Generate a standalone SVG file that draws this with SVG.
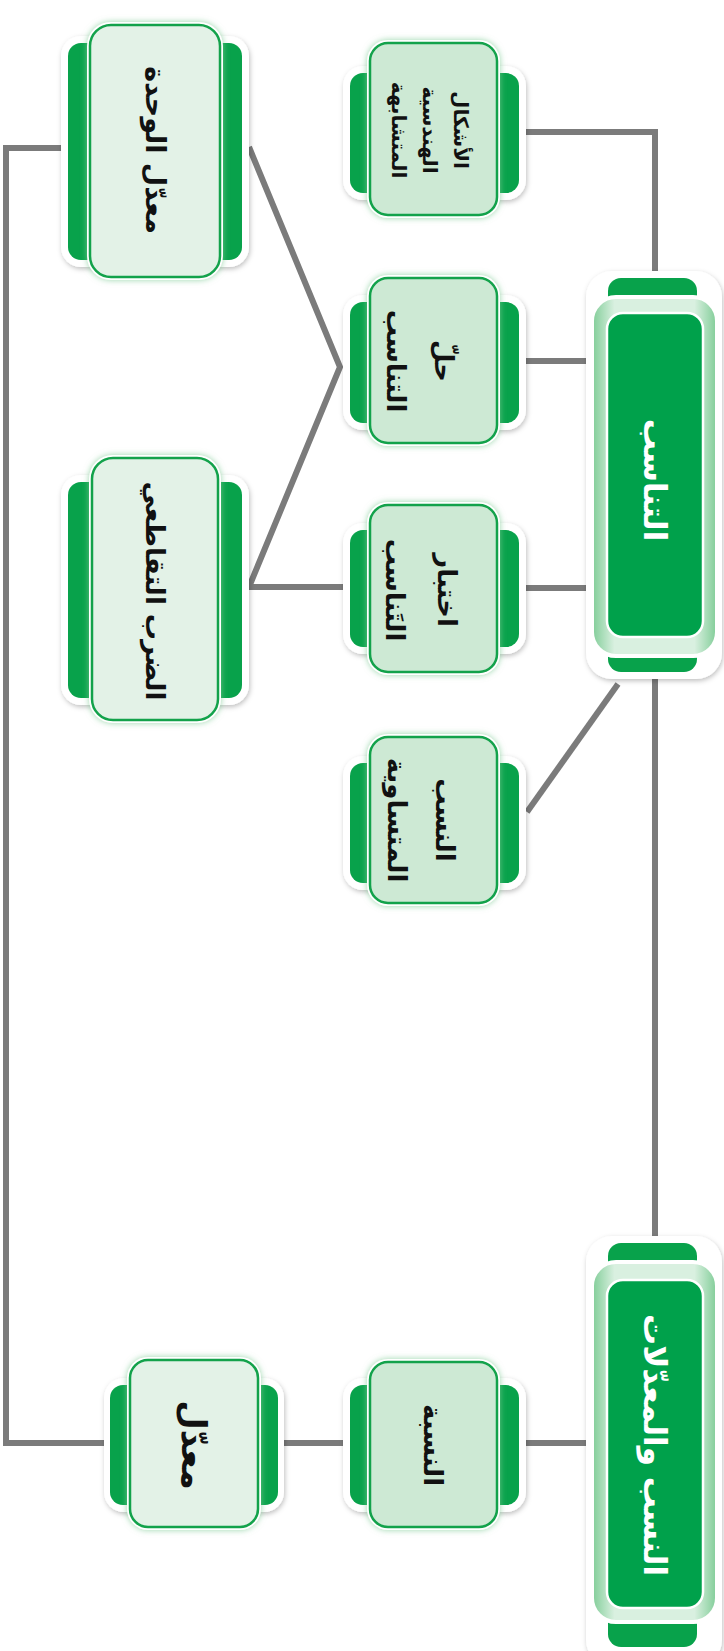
<svg xmlns="http://www.w3.org/2000/svg" width="724" height="1651" viewBox="0 0 724 1651">
<style>
.conn{stroke:#7b7b7b;stroke-width:6;fill:none;stroke-linejoin:miter;stroke-linecap:butt}
.bd{fill:#fff;filter:url(#sh)}
.tab{fill:#08a24b}
.halo{fill:#fff;filter:url(#gl)}
.f2{fill:#cde9d4;stroke:#13a24b;stroke-width:2.5}
.f3{fill:#e3f2e7;stroke:#13a24b;stroke-width:2.5}
.mo{fill:url(#mg);stroke:#fff;stroke-width:4}
.mi{fill:#00a14b;stroke:#fff;stroke-width:2.5}
.t{font-family:"DejaVu Sans",sans-serif;font-size:26px;font-weight:bold;fill:#111;text-anchor:middle;dominant-baseline:central}
.t3{font-size:20px}
.tm{font-family:"DejaVu Sans",sans-serif;font-size:31px;fill:#fff;font-weight:bold;text-anchor:middle;dominant-baseline:central}
</style>
<defs>
<filter id="sh" x="-20%" y="-20%" width="140%" height="140%"><feDropShadow dx="1" dy="2" stdDeviation="2.5" flood-color="#000" flood-opacity="0.25"/></filter>
<filter id="gl" x="-20%" y="-20%" width="140%" height="140%"><feDropShadow dx="0" dy="0" stdDeviation="3" flood-color="#7fcb94" flood-opacity="0.8"/></filter>
<linearGradient id="mg" x1="0" y1="0" x2="1" y2="0">
<stop offset="0" stop-color="#7fcc96"/><stop offset="0.18" stop-color="#d9f0e0"/><stop offset="0.82" stop-color="#d9f0e0"/><stop offset="1" stop-color="#7fcc96"/>
</linearGradient>
</defs>
<rect width="724" height="1651" fill="#fff"/>
<g id="connectors">
<path class="conn" d="M655,271 V132 H526"/>
<path class="conn" d="M586,361 H526"/>
<path class="conn" d="M586,588 H526"/>
<path class="conn" d="M618,684 L527,812"/>
<path class="conn" d="M655,679 V1236"/>
<path class="conn" d="M586,1443 H526"/>
<path class="conn" d="M343,1443 H284"/>
<path class="conn" d="M104,1443 H6 V148 H61"/>
<path class="conn" d="M249,147 L340,367 L249,587 H343"/>
</g>
<g id="n-tanasub">
<rect class="bd" x="586" y="271" width="136" height="408" rx="26"/>
<rect class="tab" x="608" y="278" width="89" height="394" rx="13"/>
<rect class="mo" x="592" y="297" width="125" height="359" rx="24"/>
<rect class="mi" x="607" y="313" width="96" height="324" rx="16"/>
<text class="tm" transform="translate(655,480) rotate(90)">التناسب</text>
</g>
<g id="n-nisab">
<rect class="bd" x="586" y="1236" width="136" height="430" rx="26"/>
<rect class="tab" x="608" y="1243" width="89" height="404" rx="13"/>
<rect class="mo" x="592" y="1262" width="125" height="360" rx="24"/>
<rect class="mi" x="607" y="1280" width="96" height="328" rx="16"/>
<text class="tm" transform="translate(655,1445) rotate(90)">النسب والمعدّلات</text>
</g>
<g id="n-ashkal">
<rect class="bd" x="343" y="66" width="183" height="134" rx="20"/>
<rect class="tab" x="350" y="73" width="169" height="120" rx="13"/>
<rect class="halo" x="367" y="40" width="133" height="178" rx="21"/>
<rect class="f2" x="370" y="43" width="127" height="172" rx="18"/>
<g transform="translate(430,130) rotate(90)">
<text class="t t3" y="-31">الأشكال</text>
<text class="t t3" y="0">الهندسية</text>
<text class="t t3" y="31">المتشابهة</text>
</g>
</g>
<g id="n-hal">
<rect class="bd" x="343" y="295" width="183" height="135" rx="20"/>
<rect class="tab" x="350" y="302" width="169" height="121" rx="13"/>
<rect class="halo" x="367" y="275" width="133" height="171" rx="21"/>
<rect class="f2" x="370" y="278" width="127" height="165" rx="18"/>
<g transform="translate(420,361) rotate(90)">
<text class="t" y="-24">حلّ</text>
<text class="t" y="24">التناسب</text>
</g>
</g>
<g id="n-ikhtibar">
<rect class="bd" x="343" y="523" width="183" height="131" rx="20"/>
<rect class="tab" x="350" y="530" width="169" height="117" rx="13"/>
<rect class="halo" x="367" y="502" width="133" height="173" rx="21"/>
<rect class="f2" x="370" y="505" width="127" height="167" rx="18"/>
<g transform="translate(421,590) rotate(90)">
<text class="t" y="-26">اختبار</text>
<text class="t" y="26">التَناسب</text>
</g>
</g>
<g id="n-mutasawiya">
<rect class="bd" x="343" y="756" width="183" height="134" rx="20"/>
<rect class="tab" x="350" y="763" width="169" height="120" rx="13"/>
<rect class="halo" x="367" y="734" width="133" height="172" rx="21"/>
<rect class="f2" x="370" y="737" width="127" height="166" rx="18"/>
<g transform="translate(421,820) rotate(90)">
<text class="t" y="-24">النسب</text>
<text class="t" y="24">المتساوية</text>
</g>
</g>
<g id="n-nisba">
<rect class="bd" x="343" y="1378" width="183" height="134" rx="20"/>
<rect class="tab" x="350" y="1385" width="169" height="120" rx="13"/>
<rect class="halo" x="367" y="1359" width="133" height="171" rx="21"/>
<rect class="f2" x="370" y="1362" width="127" height="165" rx="18"/>
<text class="t" style="font-size:26px" transform="translate(433,1445) rotate(90)">النسبة</text>
</g>
<g id="n-wahda">
<rect class="bd" x="61" y="36" width="188" height="231" rx="20"/>
<rect class="tab" x="68" y="43" width="174" height="217" rx="13"/>
<rect class="halo" x="87" y="22" width="136" height="258" rx="24"/>
<rect class="f3" x="90" y="25" width="130" height="252" rx="21"/>
<text class="t" style="font-size:27px" transform="translate(155,150) rotate(90)">معدّل الوحدة</text>
</g>
<g id="n-darb">
<rect class="bd" x="61" y="475" width="188" height="230" rx="20"/>
<rect class="tab" x="68" y="482" width="174" height="216" rx="13"/>
<rect class="halo" x="89" y="455" width="132" height="268" rx="24"/>
<rect class="f3" x="92" y="458" width="126" height="262" rx="21"/>
<text class="t" style="font-size:26px" transform="translate(155,591) rotate(90)">الضرب التقاطعي</text>
</g>
<g id="n-muaddal">
<rect class="bd" x="104" y="1378" width="180" height="134" rx="20"/>
<rect class="tab" x="110" y="1385" width="168" height="120" rx="13"/>
<rect class="halo" x="127" y="1357" width="134" height="173" rx="21"/>
<rect class="f3" x="130" y="1360" width="128" height="167" rx="18"/>
<text class="t" style="font-size:34px" transform="translate(194,1445) rotate(90)">معدّل</text>
</g>
</svg>
